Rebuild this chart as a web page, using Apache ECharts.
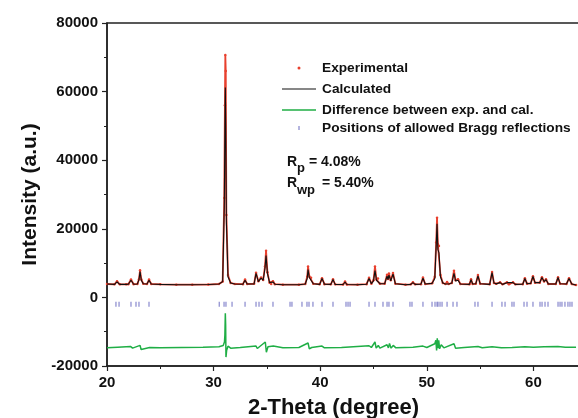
<!DOCTYPE html>
<html>
<head>
<meta charset="utf-8">
<script src="https://cdn.jsdelivr.net/npm/echarts@6/dist/echarts.min.js"></script>
<style>
html,body{margin:0;padding:0;background:#fff;}
#chart{width:578px;height:418px;}
</style>
</head>
<body>
<div id="chart"></div>
<script>
// 2-Theta vertices (degree) shared by calculated and experimental profiles
var twoTheta = [20.0,20.7,20.94,21.2,21.8,22.0,22.25,22.5,22.85,23.0,23.1,23.22,23.4,23.75,23.94,24.15,25.0,26.5,28.0,29.5,30.5,30.85,31.0,31.06,31.1,31.14,31.2,31.35,31.6,32.0,32.75,32.95,33.15,33.8,33.98,34.2,34.45,34.65,34.82,34.92,35.05,35.25,35.4,35.57,35.75,36.5,38.0,38.6,38.78,38.86,38.98,39.14,39.35,39.95,40.17,40.4,41.0,41.2,41.4,42.15,42.33,42.5,43.5,44.35,44.58,44.8,45.0,45.14,45.28,45.42,45.6,46.05,46.27,46.36,46.45,46.62,46.83,47.05,48.0,48.5,48.7,48.9,49.45,49.64,49.85,50.5,50.75,50.88,50.96,51.04,51.14,51.28,51.5,51.75,51.9,52.05,52.35,52.55,52.7,52.93,53.15,54.0,54.15,54.3,54.6,54.8,55.0,55.9,56.12,56.3,56.5,56.87,57.1,57.52,57.7,58.09,58.3,59.0,59.2,59.4,59.75,59.96,60.15,60.6,60.8,61.0,61.18,61.4,62.1,62.31,62.5,63.1,63.34,63.6,64.0];
var calculated = [3900,3800,4500,3800,3800,3850,5000,3850,3900,5200,7500,5000,4000,3900,5000,3900,3800,3700,3700,3750,3900,4600,26000,48000,61200,50000,22000,6000,4200,3900,3850,5000,3900,3950,7000,4600,5600,5000,8500,12200,7000,4300,3900,4500,3850,3700,3700,3900,5500,8100,5800,5500,4000,3800,5500,3850,3800,5200,3800,3750,4500,3750,3700,3850,5500,4000,4800,7800,5000,5200,4000,4000,6200,5200,6500,4800,6800,4000,3700,3800,4300,3800,3850,5600,3900,4100,5500,15000,21500,14000,13000,6000,4200,3900,4300,3900,4200,7000,4800,5000,3900,3800,5200,3900,4000,6300,4000,3800,7200,4200,3950,4300,3800,4300,3800,4300,3800,3850,5500,4000,4100,6100,4300,4300,5800,4600,5200,3900,3900,5800,4000,3900,5500,3900,3600];
var experimental = [3900,3800,4700,3800,3800,3850,5200,3850,3900,5300,7900,5200,4000,3900,5200,3900,3800,3700,3700,3750,3900,4600,29000,56000,70700,66000,24000,6500,4200,3900,3850,5200,3900,3950,7200,4700,5800,5100,9000,13600,7300,4300,3900,4700,3850,3700,3700,3900,6000,9000,6100,5700,4000,3800,5600,3850,3800,5300,3800,3750,4600,3750,3700,3850,5700,4000,5000,9000,5200,5500,4000,4000,6600,5400,7000,5000,7100,4000,3700,3800,4400,3800,3850,5800,3900,4100,6000,16000,23200,15500,15000,6500,4200,3900,4500,3900,4200,7800,5000,5300,3900,3800,5300,3900,4000,6500,4000,3800,7400,4200,3950,4400,3800,4400,3800,4400,3800,3850,5600,4000,4100,6200,4300,4300,5900,4600,5300,3900,3900,5900,4000,3900,5600,3900,3600];
// Difference curve
var diffTheta = [20,21,22.2,22.4,23.1,23.2,24,25,27,29,30.5,30.9,31.02,31.06,31.1,31.13,31.16,31.22,31.35,31.6,32.5,33.98,34.1,34.85,34.95,35.1,35.6,36.5,38,38.86,38.98,39.2,40.17,40.4,42,44.58,44.8,45.14,45.25,45.45,45.6,46.27,46.4,46.5,46.65,46.85,47.1,48.7,49.64,50.0,50.75,50.85,50.92,50.98,51.05,51.12,51.2,51.35,51.6,52.55,52.7,53.5,54.8,55.2,56.12,57,58,59.2,60,61,62.3,63,64];
var diffValues = [-14700,-14500,-14300,-14800,-14000,-15200,-14600,-14700,-14600,-14500,-14400,-14000,-13000,-11000,-4600,-8000,-17400,-15500,-14200,-14800,-14600,-14200,-14900,-13000,-16000,-14400,-14200,-14700,-14600,-13300,-15000,-14600,-14200,-14700,-14600,-14100,-14600,-13000,-14800,-14000,-14800,-13800,-14700,-13400,-14800,-14000,-14700,-14500,-14200,-14600,-13500,-12500,-15500,-11900,-14800,-12500,-15000,-13800,-14700,-13500,-14800,-14600,-14300,-14700,-14400,-14700,-14600,-14400,-14500,-14400,-14300,-14500,-14500];
// Positions of allowed Bragg reflections
var braggPositions = [20.84,21.13,22.25,22.72,23.0,23.94,30.53,30.98,31.16,31.73,32.95,33.98,34.26,34.54,35.57,37.17,37.35,38.29,38.76,38.95,39.32,40.17,41.2,42.42,42.61,42.8,44.58,45.14,45.89,46.27,46.45,46.83,48.42,48.61,49.64,50.49,50.77,50.96,51.05,51.24,51.43,51.9,52.46,52.83,54.52,54.8,56.12,57.05,57.34,57.99,58.18,59.12,59.4,59.96,60.62,60.81,61.09,61.37,62.31,62.5,62.68,62.96,63.24,63.43,63.62];
var braggLevel = -2000;
var xTicks = [20,30,40,50,60];
var yTicks = [-20000,0,20000,40000,60000,80000];

function pairs(xs, ys){ return xs.map(function(x,i){ return [x, ys[i]]; }); }

var FONT = '"Liberation Sans", Arial, sans-serif';
var RED = '#e8402e', GREEN = '#1fae45', BLUE = '#6a6ac0';

var chart = echarts.init(document.getElementById('chart'));
chart.setOption({
  animation:false,
  backgroundColor:'#fff',
  grid:{left:107, right:-62, top:23, bottom:52, outerBoundsMode:'none', containLabel:false,
        show:true, borderColor:'#222', borderWidth:1.5},
  xAxis:{
    type:'value', min:xTicks[0], max:70, interval:10,
    name:'2-Theta (degree)', nameLocation:'middle', nameGap:31,
    nameTextStyle:{fontFamily:FONT, fontWeight:'bold', fontSize:22, color:'#111', padding:[0,80,0,0]},
    axisLine:{onZero:false, lineStyle:{color:'#222', width:1.5}},
    axisTick:{length:5, lineStyle:{color:'#222', width:1.2}},
    minorTick:{show:true, splitNumber:2, length:3, lineStyle:{color:'#222'}},
    axisLabel:{fontFamily:FONT, fontWeight:'bold', fontSize:15, color:'#111', margin:9,
      formatter:function(v){ return xTicks.indexOf(v)>=0 ? String(v) : ''; }},
    splitLine:{show:false}
  },
  yAxis:{
    type:'value', min:yTicks[0], max:yTicks[yTicks.length-1], interval:20000,
    name:'Intensity (a.u.)', nameLocation:'middle', nameGap:65,
    nameTextStyle:{fontFamily:FONT, fontWeight:'bold', fontSize:21, color:'#111'},
    axisLine:{show:true, onZero:false, lineStyle:{color:'#222', width:1.5}},
    axisTick:{show:true, length:5, lineStyle:{color:'#222', width:1.2}},
    minorTick:{show:true, splitNumber:2, length:3, lineStyle:{color:'#222'}},
    axisLabel:{fontFamily:FONT, fontWeight:'bold', fontSize:15, color:'#111', margin:9,
      formatter:function(v){ return String(v); }},
    splitLine:{show:false}
  },
  series:[
    {name:'Difference between exp. and cal.', type:'line', data:pairs(diffTheta, diffValues),
      symbol:'none', lineStyle:{color:GREEN, width:1.5}, z:2},
    {name:'Positions of allowed Bragg reflections', type:'scatter',
      data:braggPositions.map(function(p){ return [p, braggLevel]; }),
      symbol:'rect', symbolSize:[1.2,5], itemStyle:{color:BLUE}, z:2},
    {name:'Experimental', type:'line', data:pairs(twoTheta, experimental),
      symbol:'circle', symbolSize:2.5, showSymbol:true, showAllSymbol:true,
      itemStyle:{color:RED}, lineStyle:{color:RED, width:1.8}, z:3},
    {name:'Calculated', type:'line', data:pairs(twoTheta, calculated),
      symbol:'none', lineStyle:{color:'#111', width:1.1}, z:4}
  ],
  graphic:[
    {type:'circle', shape:{cx:299, cy:68, r:1.5}, style:{fill:RED}},
    {type:'text', left:322, top:61, style:{text:'Experimental', font:'bold 13.7px '+FONT, fill:'#111'}},
    {type:'line', shape:{x1:282, y1:89, x2:316, y2:89}, style:{stroke:'#111', lineWidth:1.2}},
    {type:'text', left:322, top:82, style:{text:'Calculated', font:'bold 13.7px '+FONT, fill:'#111'}},
    {type:'line', shape:{x1:282, y1:110, x2:316, y2:110}, style:{stroke:GREEN, lineWidth:1.5}},
    {type:'text', left:322, top:103, style:{text:'Difference between exp. and cal.', font:'bold 13.7px '+FONT, fill:'#111'}},
    {type:'rect', shape:{x:298.5, y:126, width:1, height:4}, style:{fill:BLUE}},
    {type:'text', left:322, top:121, style:{text:'Positions of allowed Bragg reflections', font:'bold 13.7px '+FONT, fill:'#111'}},
    {type:'text', left:287, top:155, style:{text:'R', font:'bold 14px '+FONT, fill:'#111'}},
    {type:'text', left:297, top:162, style:{text:'p', font:'bold 13px '+FONT, fill:'#111'}},
    {type:'text', left:309, top:155, style:{text:'= 4.08%', font:'bold 14px '+FONT, fill:'#111'}},
    {type:'text', left:287, top:176, style:{text:'R', font:'bold 14px '+FONT, fill:'#111'}},
    {type:'text', left:297, top:184, style:{text:'wp', font:'bold 13px '+FONT, fill:'#111'}},
    {type:'text', left:322, top:176, style:{text:'= 5.40%', font:'bold 14px '+FONT, fill:'#111'}}
  ]
});
</script>
</body>
</html>
